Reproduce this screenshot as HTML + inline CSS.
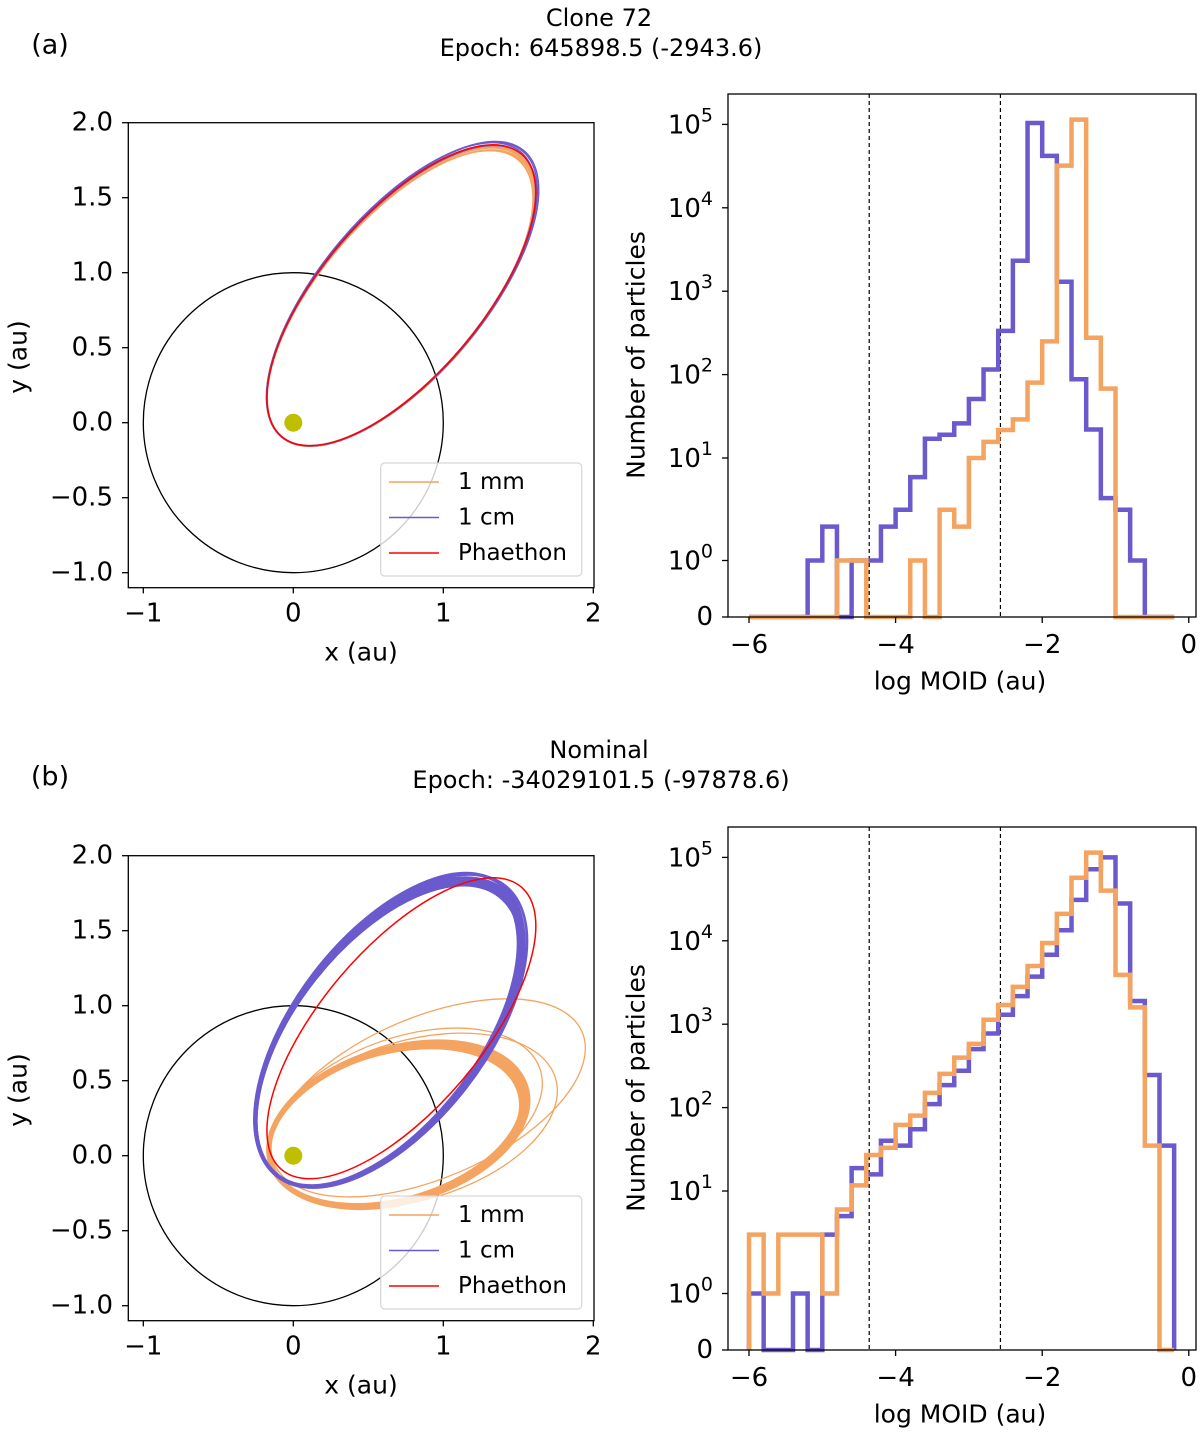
<!DOCTYPE html>
<html><head><meta charset="utf-8"><style>
body{margin:0;background:#fff}
svg{display:block;font-family:"DejaVu Sans","Liberation Sans",sans-serif}
</style></head><body>
<svg id="fig" width="1200" height="1434" viewBox="0 0 1200 1434" xmlns="http://www.w3.org/2000/svg">
<defs>
<clipPath id="clipA"><rect x="128" y="123" width="466" height="466"/></clipPath>
<clipPath id="clipB"><rect x="128" y="856" width="466" height="466"/></clipPath>
</defs>
<g id="root"></g>
</svg>
<script>
// ---- histogram data: 29 bins of width 0.2 from -6 to -0.2 (log MOID) ----
const binStart = -6;
const binWidth = 0.2;
const blueA = [0,0,0,0,1,1.6,0,1,1,1.6,2.4,5.9,17,19,26,51,115,334,2320,104000,42000,1300,88,22,3.3,2.4,1,0,0];
const orangeA = [0,0,0,0,0,0,1,1,0,0,0,1,0,2.4,1.6,10,15.6,21.7,29,80,250,32000,114000,277,68,0,0,0,0];
const blueB = [1,0,0,1,0,3,5,18.8,15.8,40,35,55,110,186,277,503,774,1300,2170,3720,6800,13400,31000,72000,100000,28000,1900,246,35];
const orangeB = [3,1,3,3,3,1,6,11.7,27,33,62,80,150,254,398,580,1130,1700,2800,4980,9400,21000,57000,114000,40000,3900,1590,35,0];
const yTickExps = [0,1,2,3,4,5];
const xTickVals = [-6,-4,-2,0];
const dashedLines = [-4.36,-2.57];
// ---- orbit data (a [au], e, aphelion direction angle [deg]) ----
const phaethon = {a:1.235,e:0.902,th:49.7};
const blueA_a = [1.235,1.245,1.24,1.25];
const blueA_e = [0.902,0.903,0.901,0.902];
const blueA_th = [49.5,49.8,50.0,49.7];
const orA_a = [1.22,1.225,1.23,1.215,1.228];
const orA_e = [0.90,0.901,0.90,0.899,0.902];
const orA_th = [49.2,49.5,49.8,49.4,49.6];
const blueB_a = [1.19,1.195,1.20,1.205,1.21,1.215,1.22,1.225,1.23,1.20,1.215,1.225];
const blueB_e = [0.855,0.857,0.86,0.858,0.862,0.86,0.865,0.857,0.86,0.862,0.856,0.859];
const blueB_th = [51.5,51.8,52,52.5,52.2,51.8,53,52.6,51.9,52.8,52.1,52.4];
const orB_a = [0.86,0.865,0.87,0.875,0.88,0.885,0.89,0.865,0.885,0.895,0.872,0.878,1.116,0.989,0.95];
const orB_e = [0.815,0.818,0.82,0.818,0.822,0.82,0.82,0.825,0.817,0.815,0.821,0.816,0.877,0.843,0.835];
const orB_th = [15.5,15.8,16,16.5,16.2,15.8,17,16.6,15.9,16.3,16.8,15.6,23.2,16.4,19.5];
const orbTicks = [2.0,1.5,1.0,0.5,0.0,-0.5,-1.0];
const orbXTicks = [-1,0,1,2];

const NS="http://www.w3.org/2000/svg";
const root=document.getElementById('root');
function el(tag,attrs,parent){const e=document.createElementNS(NS,tag);for(const k in attrs)e.setAttribute(k,attrs[k]);(parent||root).appendChild(e);return e;}
function txt(s,x,y,size,anchor,parent,extra){const t=el('text',Object.assign({x:x,y:y,'font-size':size,'text-anchor':anchor||'middle','dominant-baseline':'central',fill:'#000'},extra||{}),parent);t.textContent=s;return t;}

function histX(v){return 749+(v+6)*73.3;}
function histY(v,off){const base=617+off;if(v<=0)return base;const lin=base-56.5*v;const lg=458+off-83.4*Math.log10(v/10);return Math.max(lin,lg);}
function minus(s){return String(s).replace('-','\u2212');}

function drawHist(off,blue,orange,tag){
  const g=el('g',{});
  
  
  dashedLines.forEach((d,i)=>{const l=el('line',{x1:histX(d),x2:histX(d),y1:94+off,y2:617+off,stroke:'#000','stroke-width':1.2,'stroke-dasharray':'4,3'},g);
    
    });
  [[blue,'#6a5acd','blue-1cm'],[orange,'#f4a460','orange-1mm']].forEach(([arr,col,nm])=>{
    let d='M'+histX(binStart)+','+histY(0,off);
    arr.forEach((v,i)=>{const x0=histX(binStart+i*binWidth),x1=histX(binStart+(i+1)*binWidth),y=histY(v,off);d+=' L'+x0+','+y+' L'+x1+','+y;});
    d+=' L'+histX(binStart+arr.length*binWidth)+','+histY(0,off);
    const p=el('path',{d:d,fill:'none',stroke:col,'stroke-width':4.5,'stroke-linejoin':'miter'},g);
    
    
  });
  const box=el('rect',{x:728,y:94+off,width:468,height:523,fill:'none',stroke:'#000','stroke-width':1.3},g);
  
  
  const yt=[{v:0,l:'0'}].concat(yTickExps.map(k=>({v:Math.pow(10,k),k:k})));
  yt.forEach(t=>{const y=histY(t.v,off);el('line',{x1:722,x2:728,y1:y,y2:y,stroke:'#000','stroke-width':1.3},g);
    if(t.l!==undefined){const tt=txt('0',713,y,26,'end',g);}
    else{const tt=el('text',{x:713,y:y+9,'font-size':26,'text-anchor':'end',fill:'#000'},g);
      
      
      const a=el('tspan',{},tt);a.textContent='10';const b=el('tspan',{'font-size':19,dy:-12},tt);b.textContent=String(t.k);}
  });
  xTickVals.forEach(v=>{const x=histX(v);el('line',{x1:x,x2:x,y1:617+off,y2:623+off,stroke:'#000','stroke-width':1.3},g);
    const tt=txt(minus(v),x,645+off,26,'middle',g);});
  const xl=txt('log MOID (au)',960,681+off,25,'middle',g);
  
  
  const yl=txt('Number of particles',636,355+off,25,'middle',g,{transform:'rotate(-90 636 '+(355+off)+')'});
  
  
}

function ox(x){return 293.3+150*x;}
function oy(y,off){return 422.7+off-150*y;}
function orbitEllipse(a,e,th,off,col,sw,parent){
  const c=a*e,b=a*Math.sqrt(1-e*e),r=th*Math.PI/180;
  const cx=ox(c*Math.cos(r)),cy=oy(c*Math.sin(r),off);
  return el('ellipse',{cx:cx,cy:cy,rx:150*a,ry:150*b,transform:'rotate('+(-th)+' '+cx+' '+cy+')',fill:'none',stroke:col,'stroke-width':sw},parent);
}
function drawOrbit(off,clip,bands,tag){
  const g=el('g',{});
  
  
  const inner=el('g',{'clip-path':'url(#'+clip+')'},g);
  const earth=el('circle',{cx:ox(0),cy:oy(0,off),r:150,fill:'none',stroke:'#000','stroke-width':1.3},inner);
  
  
  bands.forEach(bd=>{bd.a.forEach((a,i)=>{const sw=(i>=bd.thickCount)?1.3:bd.sw;const e=orbitEllipse(a,bd.e[i],bd.th[i],off,bd.col,sw,inner);
    
    });});
  const ph=orbitEllipse(phaethon.a,phaethon.e,phaethon.th,off,'#ff0000',1.5,inner);
  
  
  const sun=el('circle',{cx:ox(0),cy:oy(0,off),r:9,fill:'#bfbf00'},inner);
  
  
  const box=el('rect',{x:128.3,y:oy(2.0,off),width:465.7,height:465,fill:'none',stroke:'#000','stroke-width':1.3},g);
  
  
  orbTicks.forEach(v=>{const y=oy(v,off);el('line',{x1:122,x2:128.3,y1:y,y2:y,stroke:'#000','stroke-width':1.3},g);
    const t=txt(minus(v.toFixed(1)),113,y,26,'end',g);});
  const bot=oy(-1.1,off)-0.3;
  orbXTicks.forEach(v=>{const x=ox(v);el('line',{x1:x,x2:x,y1:bot,y2:bot+6,stroke:'#000','stroke-width':1.3},g);
    const t=txt(minus(v),x,bot+26,26,'middle',g);});
  const xl=txt('x (au)',361,652+off,25,'middle',g);
  
  
  const yl=txt('y (au)',18,357+off,25,'middle',g,{transform:'rotate(-90 18 '+(357+off)+')'});
  
  
  const lg=el('g',{},g);
  
  
  el('rect',{x:380.7,y:463+off,width:201,height:113,rx:4,fill:'rgba(255,255,255,0.8)',stroke:'#d6d6d6','stroke-width':1.2},lg);
  [['1 mm','#f4a460'],['1 cm','#6a5acd'],['Phaethon','#ff0000']].forEach((en,i)=>{
    const y=482+off+35.5*i;
    const ent=el('g',{},lg);
    
    
    el('line',{x1:389,x2:439,y1:y,y2:y,stroke:en[1],'stroke-width':1.5},ent);
    txt(en[0],458,y,23,'start',ent);
  });
}

function titles(off,label,t1,t2,tag){
  const a=txt(label,50,45+off,27,'middle');
  const b=txt(t1,599,18+off,24,'middle');
  const c=txt(t2,601,48+off,24,'middle');
}
titles(0,'(a)','Clone 72','Epoch: 645898.5 (-2943.6)','a');
titles(732,'(b)','Nominal','Epoch: -34029101.5 (-97878.6)','b');
drawOrbit(0,'clipA',[
  {a:orA_a,e:orA_e,th:orA_th,col:'#f4a460',sw:1.8,name:'orbit-1mm',thickCount:99},
  {a:blueA_a,e:blueA_e,th:blueA_th,col:'#6a5acd',sw:1.4,name:'orbit-1cm',thickCount:99}],'a');
drawOrbit(733,'clipB',[
  {a:orB_a,e:orB_e,th:orB_th,col:'#f4a460',sw:3,name:'orbit-1mm',thickCount:12},
  {a:blueB_a,e:blueB_e,th:blueB_th,col:'#6a5acd',sw:2.6,name:'orbit-1cm',thickCount:99}],'b');
drawHist(0,blueA,orangeA,'a');
drawHist(733,blueB,orangeB,'b');
</script>
</body></html>
